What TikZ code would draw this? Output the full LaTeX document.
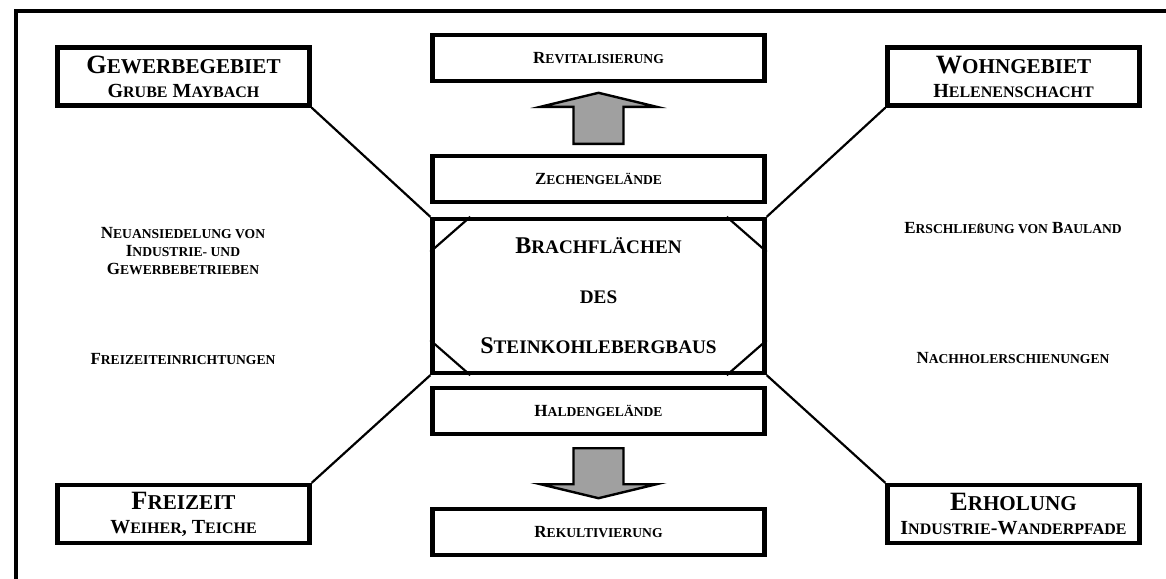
\documentclass[tikz,border=0pt]{standalone}
\usepackage{fontspec}
\setmainfont{Liberation Serif}
\usetikzlibrary{calc}
\definecolor{Pfeilgrau}{HTML}{A0A0A0}
\makeatletter
\newcommand{\kl}[1]{{\fontsize{\strip@pt\dimexpr0.8\dimexpr\f@size pt\relax\relax}{0}\selectfont #1}}
\makeatother

\begin{document}
\begin{tikzpicture}[x=0.5pt,y=-0.5pt,font=\bfseries,
  kasten/.style={draw,line width=2.2pt,fill=white,inner sep=0pt,align=center},
  gross/.style={kasten,minimum width=126pt,minimum height=29pt,font=\fontsize{13.2}{12}\selectfont\bfseries},
  flach/.style={kasten,minimum width=166pt,minimum height=23pt,font=\fontsize{8.5}{10}\selectfont\bfseries},
  seite/.style={align=center,inner sep=0pt,font=\fontsize{8.5}{9}\selectfont\bfseries},
  verbinder/.style={line width=1.1pt},
  pfeil/.style={fill=Pfeilgrau,draw=black,line width=1.2pt}]
  \useasboundingbox (0,0) rectangle (1166,578);
  % rahmen
  \draw[line width=1.75pt] (16,600) |- (1190,11);

  % mitte
  \node[kasten,minimum width=166pt,minimum height=77pt,font=\fontsize{12}{25}\selectfont\bfseries] (haupt) at (598.5,296)
    {B\kl{RACHFLÄCHEN}\\\kl{DES}\\S\kl{TEINKOHLEBERGBAUS}};
  \draw[verbinder] ($(haupt.north west)+(40,0)$) -- ($(haupt.north west)+(0,35)$);
  \draw[verbinder] ($(haupt.north east)+(-40,0)$) -- ($(haupt.north east)+(0,35)$);
  \draw[verbinder] ($(haupt.south west)+(40,0)$) -- ($(haupt.south west)+(0,-35)$);
  \draw[verbinder] ($(haupt.south east)+(-40,0)$) -- ($(haupt.south east)+(0,-35)$);

  \node[flach] (revit)  at (598.5,58)  {R\kl{EVITALISIERUNG}};
  \node[flach] (zech)   at (598.5,179) {Z\kl{ECHENGELÄNDE}};
  \node[flach] (hald)   at (598.5,411) {H\kl{ALDENGELÄNDE}};
  \node[flach] (rekult) at (598.5,532) {R\kl{EKULTIVIERUNG}};

  \filldraw[pfeil] ($(zech.north)+(-25,-10)$) -- ++(0,-37) -- ++(-33,0) -- ($(zech.north)+(0,-61)$)
    -- ($(zech.north)+(58,-47)$) -- ++(-33,0) -- ++(0,37) -- cycle;
  \filldraw[pfeil] ($(hald.south)+(-25,12)$) -- ++(0,36) -- ++(-33,0) -- ($(hald.south)+(0,62)$)
    -- ($(hald.south)+(58,48)$) -- ++(-33,0) -- ++(0,-36) -- cycle;

  % ecken
  \node[gross] (gew) at (183.5,76.5)
    {G\kl{EWERBEGEBIET}\\{\fontsize{10}{12}\selectfont G\kl{RUBE} M\kl{AYBACH}}};
  \node[gross] (wohn) at (1013.5,76.5)
    {W\kl{OHNGEBIET}\\{\fontsize{10}{12}\selectfont H\kl{ELENENSCHACHT}}};
  \node[gross] (frei) at (183.5,514)
    {F\kl{REIZEIT}\\{\fontsize{10}{12}\selectfont W\kl{EIHER}, T\kl{EICHE}}};
  \node[gross] (erh) at (1013.5,514)
    {E\kl{RHOLUNG}\\{\fontsize{10}{12}\selectfont I\kl{NDUSTRIE}-W\kl{ANDERPFADE}}};

  \draw[verbinder] (gew.south east)  -- (haupt.north west);
  \draw[verbinder] (wohn.south west) -- (haupt.north east);
  \draw[verbinder] (frei.north east) -- (haupt.south west);
  \draw[verbinder] (erh.north west)  -- (haupt.south east);

  % seitentexte
  \node[seite] (neuans) at (183,251) {N\kl{EUANSIEDELUNG VON}\\I\kl{NDUSTRIE- UND}\\G\kl{EWERBEBETRIEBEN}};
  \node[seite] (freiein) at (183,359) {F\kl{REIZEITEINRICHTUNGEN}};
  \node[seite] (erschl) at (1013,228) {E\kl{RSCHLIEßUNG VON} B\kl{AULAND}};
  \node[seite] (nachh) at (1013,358) {N\kl{ACHHOLERSCHIENUNGEN}};
\end{tikzpicture}
\end{document}
